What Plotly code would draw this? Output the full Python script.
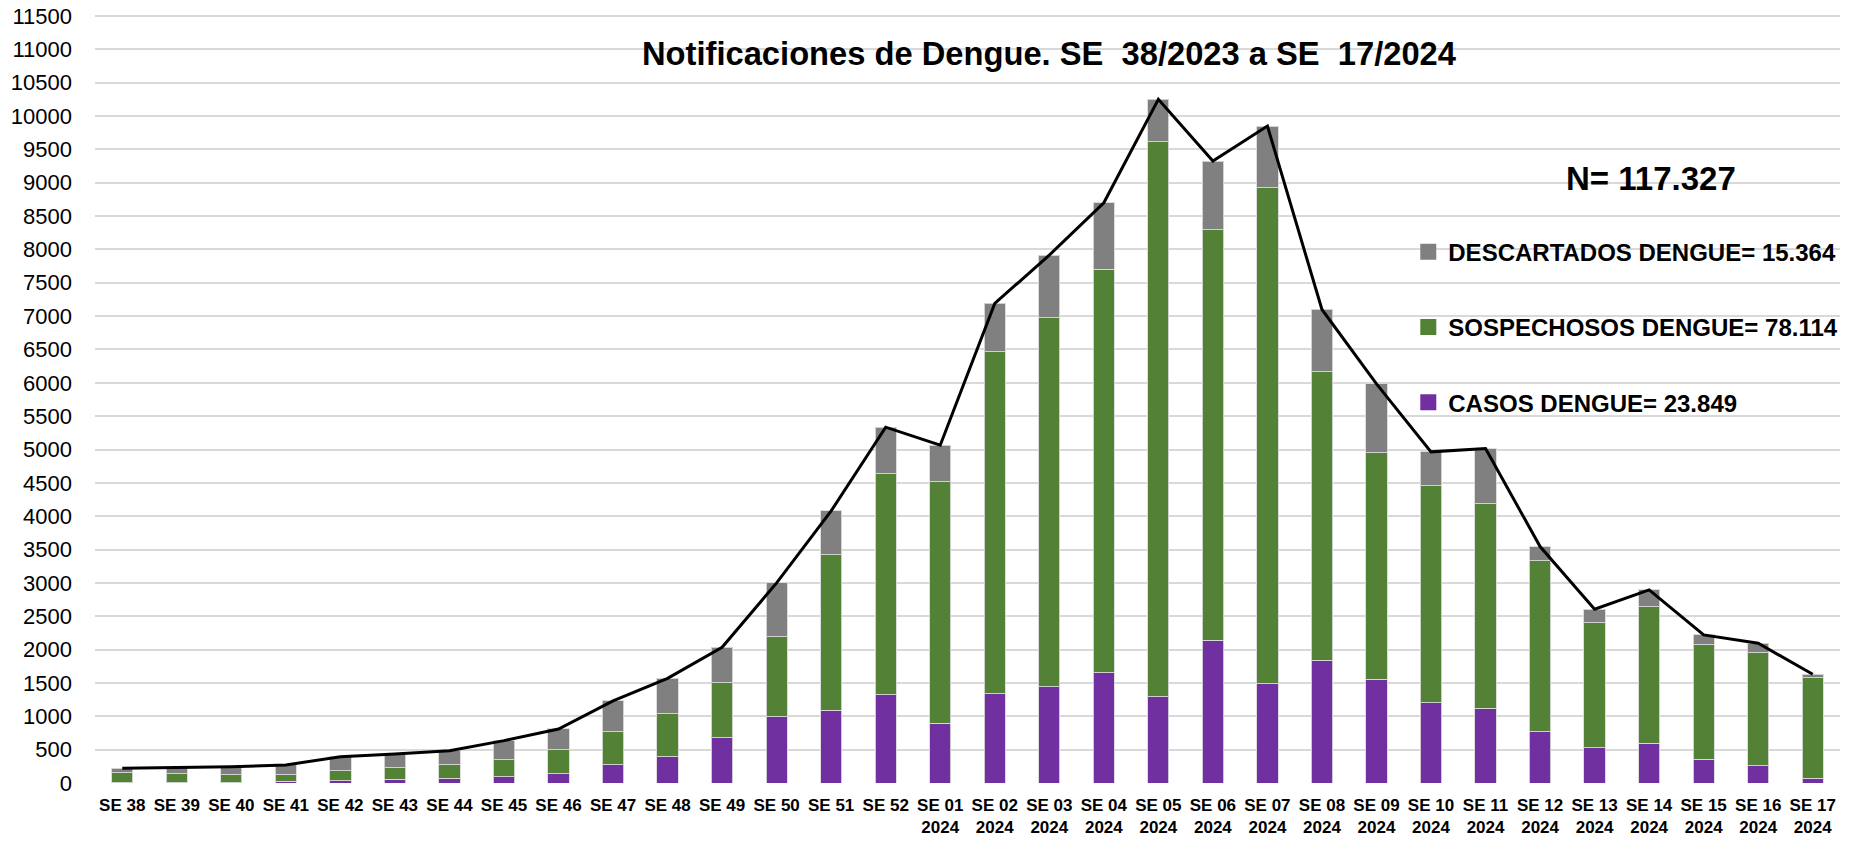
import plotly.graph_objects as go

weeks = ["SE 38", "SE 39", "SE 40", "SE 41", "SE 42", "SE 43", "SE 44", "SE 45",
         "SE 46", "SE 47", "SE 48", "SE 49", "SE 50", "SE 51", "SE 52",
         "SE 01<br>2024", "SE 02<br>2024", "SE 03<br>2024", "SE 04<br>2024",
         "SE 05<br>2024", "SE 06<br>2024", "SE 07<br>2024", "SE 08<br>2024",
         "SE 09<br>2024", "SE 10<br>2024", "SE 11<br>2024", "SE 12<br>2024",
         "SE 13<br>2024", "SE 14<br>2024", "SE 15<br>2024", "SE 16<br>2024",
         "SE 17<br>2024"]

casos = [5, 3, 5, 30, 35, 55, 70, 95, 140, 270, 390, 680, 990, 1090, 1320,
         895, 1340, 1440, 1655, 1295, 2140, 1490, 1840, 1555, 1200, 1120,
         770, 530, 595, 355, 260, 70]

sospechosos = [150, 137, 120, 95, 150, 175, 200, 255, 360, 500, 650, 825,
               1205, 2335, 3320, 3620, 5125, 5535, 6045, 8320, 6155, 7435,
               4325, 3395, 3255, 3070, 2560, 1875, 2050, 1715, 1695, 1510]

descartados = [65, 90, 120, 145, 210, 205, 215, 285, 310, 460, 530, 530,
               805, 655, 695, 550, 725, 940, 1000, 635, 1030, 925, 935,
               1035, 510, 825, 215, 200, 250, 150, 140, 50]

totales = [a + b + c for a, b, c in zip(casos, sospechosos, descartados)]

y_ticks = list(range(0, 11501, 500))

title_text = "Notificaciones de Dengue. SE \u00a038/2023 a SE \u00a017/2024"
n_text = "N= 117.327"
name_casos = "CASOS DENGUE= 23.849"
name_sosp = "SOSPECHOSOS DENGUE= 78.114"
name_desc = "DESCARTADOS DENGUE= 15.364"

C_CASOS, C_SOSP, C_DESC = "#7030A0", "#538135", "#808080"

FONT = "Liberation Sans, Arial, sans-serif"
edge = dict(color="rgba(217,217,217,0.9)", width=1)

fig = go.Figure()
fig.add_trace(go.Bar(x=weeks, y=casos, name=name_casos, marker=dict(color=C_CASOS, line=edge),
                     showlegend=False))
fig.add_trace(go.Bar(x=weeks, y=sospechosos, name=name_sosp, marker=dict(color=C_SOSP, line=edge),
                     showlegend=False))
fig.add_trace(go.Bar(x=weeks, y=descartados, name=name_desc, marker=dict(color=C_DESC, line=edge),
                     showlegend=False))
fig.add_trace(go.Scatter(x=weeks, y=totales, mode="lines", line=dict(color="black", width=3),
                         showlegend=False, hoverinfo="skip"))

# legend entries (square swatches)
for nm, col, rank in [(name_desc, C_DESC, 1), (name_sosp, C_SOSP, 2), (name_casos, C_CASOS, 3)]:
    fig.add_trace(go.Scatter(x=[None], y=[None], mode="markers", name=nm,
                             marker=dict(symbol="square", size=16, color=col),
                             legendgroup=nm, legendrank=rank, showlegend=True))

fig.update_layout(
    width=1867, height=846,
    barmode="stack", bargap=0.61,
    plot_bgcolor="white", paper_bgcolor="white",
    margin=dict(l=95, r=27, t=14, b=63, autoexpand=False),
    font=dict(family=FONT, color="black"),
    showlegend=True,
    legend=dict(x=0.7526, xanchor="left", y=0.7195, yanchor="top",
                traceorder="grouped", tracegroupgap=41, itemsizing="trace",
                font=dict(family=FONT, size=24, color="black", weight="bold"),
                bgcolor="rgba(0,0,0,0)"),
    xaxis=dict(showgrid=False, showline=False, ticks="", ticklabelstandoff=10,
               automargin=False,
               tickfont=dict(family=FONT, size=17, color="black", weight="bold"),
               tickangle=0),
    yaxis=dict(range=[0, 11530], tickvals=y_ticks, tickformat="d",
               showgrid=True, automargin=False, ticklabeloverflow="allow",
               gridcolor="#D9D9D9", gridwidth=2, zeroline=False, showline=False,
               tickfont=dict(family=FONT, size=22, color="black"), ticks="",
               ticklabelstandoff=22),
    annotations=[
        dict(text=title_text, xref="paper", yref="paper", x=0.5467, y=0.9487,
             xanchor="center", yanchor="middle", showarrow=False,
             font=dict(family=FONT, size=32.7, color="black", weight="bold")),
        dict(text=n_text, xref="paper", yref="paper", x=0.8917, y=0.7863,
             xanchor="center", yanchor="middle", showarrow=False,
             font=dict(family=FONT, size=33, color="black", weight="bold")),
    ],
)

fig.write_html("out.html", config={"displayModeBar": False},
               post_script="document.body.style.margin='0px';document.body.style.overflow='hidden';")
